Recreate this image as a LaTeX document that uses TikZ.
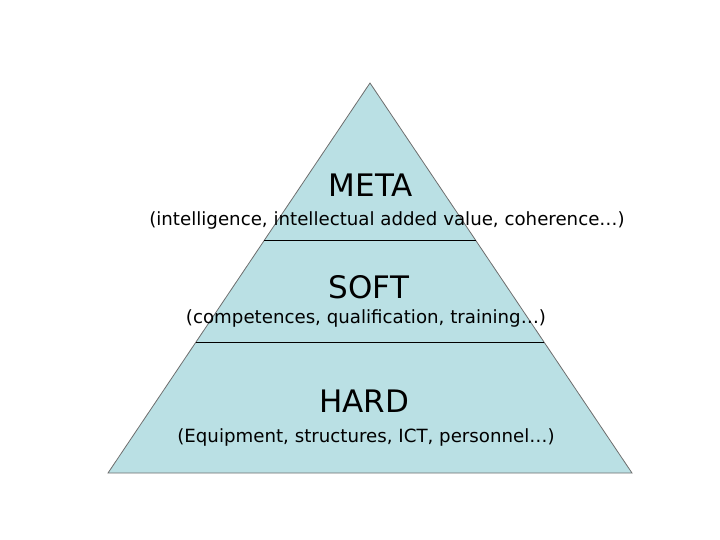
\documentclass[tikz,border=0pt]{standalone}
\usepackage{fontspec}
\setmainfont{DejaVu Sans}
\definecolor{pyr}{RGB}{186,224,228}
\definecolor{edge}{RGB}{110,110,110}
\tikzset{title/.style={font=\fontsize{31}{34}\selectfont,inner sep=0pt},
sub/.style={font=\fontsize{18.2}{20}\selectfont,inner sep=0pt}}
\begin{document}
\begin{tikzpicture}[x=1pt,y=-1pt]
\useasboundingbox (0,0) rectangle (720,540);
\coordinate (apex) at (370,83);
\coordinate (bl) at (108,473);
\coordinate (br) at (632,473);
\fill[pyr] (apex) -- (bl) -- (br) -- cycle;
\draw[edge,line width=0.8pt] (apex) -- (bl) -- (br) -- cycle;
\coordinate (l1) at (264,240); \coordinate (r1) at (476,240);
\coordinate (l2) at (196,342); \coordinate (r2) at (544,342);
\draw[black,line width=0.6pt] (l1) -- (r1);
\draw[black,line width=0.6pt] (l2) -- (r2);
\node[title] (meta) at (371,185) {META};
\node[sub] (metas) at (387,220) {(intelligence, intellectual added value, coherence…)};
\node[title] (soft) at (369,287) {SOFT};
\node[sub] (softs) at (366,318) {(competences, qualification, training…)};
\node[title] (hard) at (364,401) {HARD};
\node[sub] (hards) at (366,437) {(Equipment, structures, ICT, personnel…)};
\end{tikzpicture}
\end{document}
